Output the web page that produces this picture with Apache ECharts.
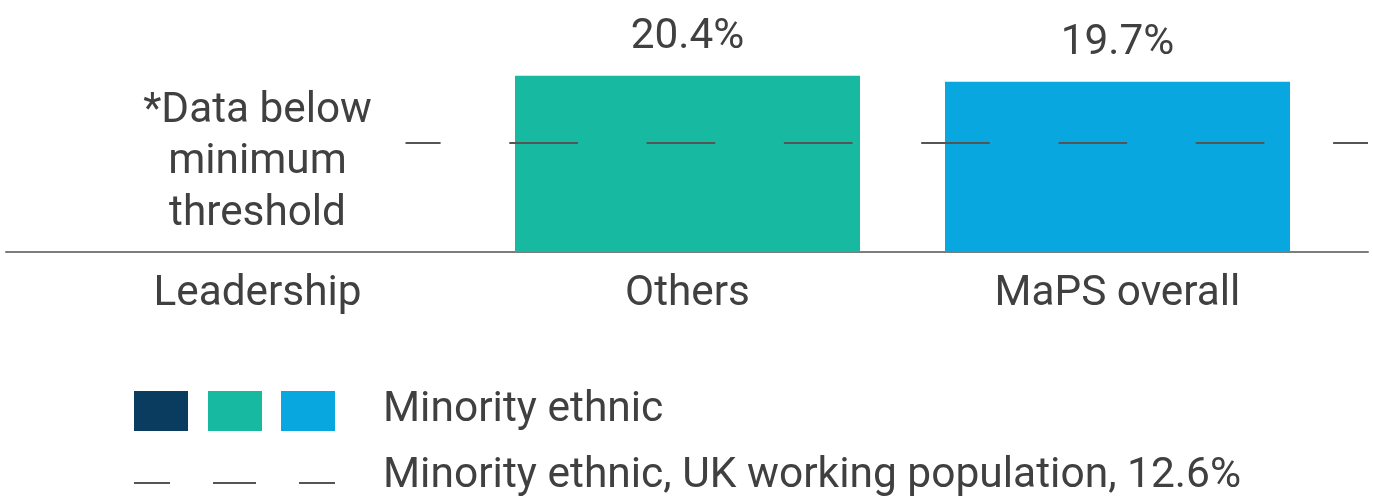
<!DOCTYPE html>
<html>
<head>
<meta charset="utf-8">
<script src="https://cdn.jsdelivr.net/npm/echarts@6/dist/echarts.min.js"></script>
<style>
  html, body { margin: 0; padding: 0; background: #fff; }
  #chart { width: 1373px; height: 499px; }
</style>
</head>
<body>
<div id="chart"></div>
<script>
// ---- data ----
var categories = ['Leadership', 'Others', 'MaPS overall'];
var minorityEthnic = [null, 20.4, 19.7];
var barColors = ['#0A3C60', '#18B9A1', '#09A7DF'];
var ukWorkingPopulation = 12.6;
var thresholdNote = '*Data below\nminimum\nthreshold';
var legendBarsLabel = 'Minority ethnic';
var legendLineLabel = 'Minority ethnic, UK working population, 12.6%';

var TEXT = '#404040';
var FONT = 'Roboto';
var yMax = 28;
var noteY = 10.36; // vertical position of the note, in axis units

var chart = echarts.init(document.getElementById('chart'), null, { renderer: 'canvas' });

var option = {
  backgroundColor: '#ffffff',
  animation: false,
  textStyle: { fontFamily: FONT },
  grid: [
    { left: 42.5, right: 40.5, top: 10, bottom: 247 },
    { left: 6, right: 5, top: 10, bottom: 247 }
  ],
  xAxis: [
    {
      type: 'category', gridIndex: 0, data: categories,
      axisLine: { show: false }, axisTick: { show: false },
      axisLabel: { fontSize: 42.3, color: TEXT, fontFamily: FONT, margin: 21, lineHeight: 42 }
    },
    {
      type: 'category', gridIndex: 1, data: [''],
      axisLine: { show: true, lineStyle: { color: '#7c7c7c', width: 2 } },
      axisTick: { show: false }, axisLabel: { show: false }
    }
  ],
  yAxis: [
    { type: 'value', gridIndex: 0, min: 0, max: yMax, show: false, splitLine: { show: false } },
    { type: 'value', gridIndex: 1, min: 0, max: yMax, show: false, splitLine: { show: false } }
  ],
  series: [
    {
      name: legendBarsLabel,
      type: 'bar',
      xAxisIndex: 0, yAxisIndex: 0,
      barWidth: 345,
      z: 2,
      data: minorityEthnic.map(function (v, i) {
        return { value: v, itemStyle: { color: barColors[i] } };
      }),
      label: {
        show: true, position: 'top', distance: 17,
        fontSize: 42.3, lineHeight: 42, color: TEXT, fontFamily: FONT,
        formatter: function (p) { return p.value + '%'; }
      }
    },
    {
      name: legendLineLabel,
      type: 'line',
      xAxisIndex: 1, yAxisIndex: 1,
      data: [null],
      symbol: 'none',
      z: 3,
      markLine: {
        silent: true, symbol: 'none', z: 3,
        label: { show: false },
        lineStyle: { color: '#555555', width: 2, type: [68.6, 68.7], dashOffset: 45.9 },
        data: [{ yAxis: ukWorkingPopulation }]
      }
    },
    {
      name: 'note',
      type: 'scatter',
      xAxisIndex: 0, yAxisIndex: 0,
      symbolSize: 0,
      z: 10,
      silent: true,
      itemStyle: { opacity: 1 },
      data: [[categories[0], noteY]],
      label: {
        show: true, position: 'inside',
        formatter: thresholdNote,
        fontSize: 42.3, lineHeight: 51.5, color: TEXT, fontFamily: FONT,
        width: 230, align: 'center', verticalAlign: 'middle',
        backgroundColor: '#ffffff',
        padding: [2, 33, 2, 141],
        offset: [-54, 0]
      }
    }
  ],
  graphic: [
    { type: 'rect', left: 134, top: 391, shape: { width: 54, height: 40 }, style: { fill: barColors[0] } },
    { type: 'rect', left: 208, top: 391, shape: { width: 54, height: 40 }, style: { fill: barColors[1] } },
    { type: 'rect', left: 281, top: 391, shape: { width: 54, height: 40 }, style: { fill: barColors[2] } },
    { type: 'text', x: 383, y: 410, style: { text: legendBarsLabel, font: '42.5px Roboto', fill: TEXT, verticalAlign: 'middle' } },
    { type: 'line', shape: { x1: 134, y1: 483, x2: 335, y2: 483 }, style: { stroke: '#555555', lineWidth: 2, lineDash: [43, 43], lineDashOffset: 7 } },
    { type: 'text', x: 383, y: 476, style: { text: legendLineLabel, font: '42.5px Roboto', fill: TEXT, verticalAlign: 'middle' } }
  ]
};

chart.setOption(option);
</script>
</body>
</html>
